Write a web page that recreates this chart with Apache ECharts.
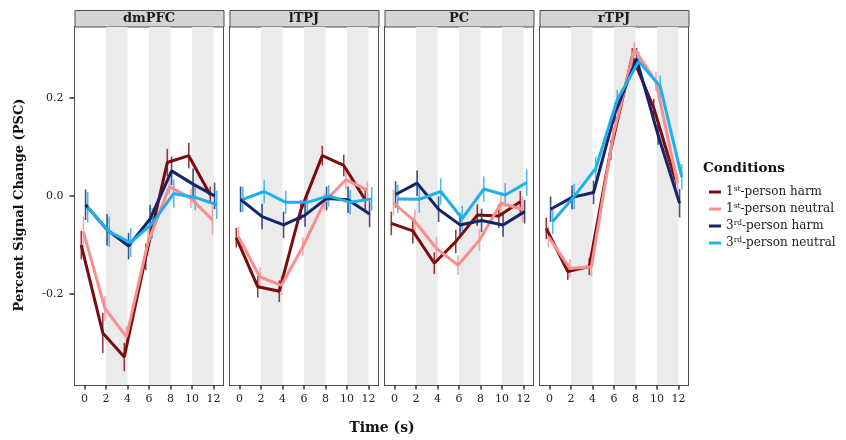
<!DOCTYPE html>
<html>
<head>
<meta charset="utf-8">
<script src="https://cdn.jsdelivr.net/npm/echarts@6/dist/echarts.min.js"></script>
<style>html,body{margin:0;padding:0;background:#fff;}#chart{width:846px;height:440px;}</style>
</head>
<body>
<div id="chart"></div>
<script>
// ---------- data ----------
const regions = ['dmPFC', 'lTPJ', 'PC', 'rTPJ'];
const times = [0, 2, 4, 6, 8, 10, 12];
const conditions = ['1st-person harm', '1st-person neutral', '3rd-person harm', '3rd-person neutral'];
const xTicks = [0, 2, 4, 6, 8, 10, 12];
const yTicks = [-0.2, 0.0, 0.2];
const bands = [[2, 4], [6, 8], [10, 12]];

// means per region: [1st harm, 1st neutral, 3rd harm, 3rd neutral]
const dmPFC_mean = [
  [-0.100, -0.279, -0.328, -0.124, 0.068, 0.082, 0.002],
  [-0.073, -0.229, -0.287, -0.095, 0.019, -0.005, -0.049],
  [-0.018, -0.069, -0.102, -0.047, 0.051, 0.024, 0.000],
  [-0.023, -0.073, -0.095, -0.056, 0.005, -0.003, -0.018]
];
const lTPJ_mean = [
  [-0.085, -0.185, -0.194, -0.029, 0.082, 0.062, -0.008],
  [-0.083, -0.165, -0.182, -0.103, -0.012, 0.033, 0.012],
  [-0.007, -0.042, -0.059, -0.039, -0.005, -0.008, -0.037],
  [-0.007, 0.009, -0.013, -0.013, 0.000, -0.013, -0.006]
];
const PC_mean = [
  [-0.056, -0.071, -0.137, -0.093, -0.039, -0.041, -0.012],
  [-0.014, -0.052, -0.107, -0.141, -0.090, -0.015, -0.027],
  [0.003, 0.026, -0.027, -0.059, -0.050, -0.059, -0.032],
  [-0.006, -0.007, 0.009, -0.046, 0.014, 0.002, 0.027]
];
const rTPJ_mean = [
  [-0.066, -0.154, -0.144, 0.094, 0.284, 0.179, 0.033],
  [-0.083, -0.148, -0.144, 0.121, 0.299, 0.233, 0.026],
  [-0.027, -0.003, 0.007, 0.169, 0.279, 0.124, -0.015],
  [-0.052, -0.001, 0.056, 0.196, 0.274, 0.223, 0.039]
];
// standard errors (half error-bar length)
const dmPFC_se = [
  [0.029, 0.041, 0.029, 0.027, 0.028, 0.026, 0.017],
  [0.031, 0.025, 0.022, 0.027, 0.015, 0.020, 0.029],
  [0.031, 0.032, 0.027, 0.029, 0.029, 0.032, 0.027],
  [0.031, 0.031, 0.029, 0.031, 0.029, 0.026, 0.029]
];
const lTPJ_se = [
  [0.020, 0.022, 0.022, 0.020, 0.020, 0.022, 0.020],
  [0.020, 0.020, 0.020, 0.019, 0.017, 0.020, 0.017],
  [0.026, 0.026, 0.027, 0.024, 0.024, 0.027, 0.027],
  [0.026, 0.024, 0.024, 0.024, 0.022, 0.025, 0.024]
];
const PC_se = [
  [0.024, 0.026, 0.022, 0.024, 0.022, 0.024, 0.022],
  [0.026, 0.024, 0.024, 0.020, 0.022, 0.022, 0.026],
  [0.027, 0.026, 0.026, 0.024, 0.024, 0.024, 0.024],
  [0.029, 0.027, 0.027, 0.026, 0.026, 0.024, 0.027]
];
const rTPJ_se = [
  [0.022, 0.017, 0.017, 0.020, 0.017, 0.019, 0.020],
  [0.022, 0.019, 0.020, 0.020, 0.014, 0.020, 0.020],
  [0.026, 0.024, 0.024, 0.020, 0.022, 0.020, 0.029],
  [0.026, 0.026, 0.024, 0.020, 0.020, 0.022, 0.026]
];

const means = [dmPFC_mean, lTPJ_mean, PC_mean, rTPJ_mean];
const ses = [dmPFC_se, lTPJ_se, PC_se, rTPJ_se];

// ---------- style ----------
const colors = ['#7a0c0e', '#f78f8f', '#15246a', '#1eb0ec'];
const dodge = [-0.3, -0.1, 0.1, 0.3];
const FONT = '"DejaVu Serif", "Liberation Serif", serif';
const gridLeft = [74.5, 229.5, 384.5, 539.5];
const gridW = 149;
const gridTop = 26.5;
const gridH = 359;

const grids = [], xAxes = [], yAxes = [], series = [], graphics = [];

regions.forEach((reg, i) => {
  grids.push({ left: gridLeft[i], top: gridTop, width: gridW, height: gridH,
    show: true, borderColor: '#4d4d4d', borderWidth: 1, backgroundColor: 'transparent' });
  xAxes.push({
    type: 'value', gridIndex: i, min: -0.93, max: 12.93, position: 'bottom',
    axisLine: { show: true, onZero: false, lineStyle: { color: '#4d4d4d', width: 1 } },
    splitLine: { show: false },
    axisTick: { show: true, length: 4, lineStyle: { color: '#333', width: 1.5 }, customValues: xTicks },
    axisLabel: { show: true, customValues: xTicks, fontFamily: FONT, fontSize: 11, color: '#222', margin: 8 }
  });
  yAxes.push({
    type: 'value', gridIndex: i, min: -0.386, max: 0.345, position: 'left',
    axisLine: { show: true, onZero: false, lineStyle: { color: '#4d4d4d', width: 1 } },
    splitLine: { show: false },
    axisTick: { show: i === 0, length: 5, lineStyle: { color: '#333', width: 1.5 }, customValues: yTicks },
    axisLabel: { show: i === 0, customValues: yTicks, fontFamily: FONT, fontSize: 11, color: '#222', margin: 11,
      formatter: v => v.toFixed(1) }
  });
  // shaded bands
  series.push({
    type: 'custom', xAxisIndex: i, yAxisIndex: i, silent: true, z: 1,
    data: bands,
    renderItem: (params, api) => {
      const cs = params.coordSys;
      const a = api.coord([api.value(0), 0]);
      const b = api.coord([api.value(1), 0]);
      return { type: 'rect', shape: { x: a[0], y: cs.y + 0.5, width: b[0] - a[0], height: cs.height - 1 },
        style: { fill: '#ebebeb' } };
    }
  });
  conditions.forEach((cond, c) => {
    const m = means[i][c], s = ses[i][c];
    series.push({
      type: 'custom', xAxisIndex: i, yAxisIndex: i, silent: true, z: 2,
      itemStyle: { color: colors[c] },
      data: times.map((t, k) => [t + dodge[c], m[k] - s[k], m[k] + s[k]]),
      encode: { x: 0, y: [1, 2] },
      renderItem: (params, api) => {
        const x = api.value(0);
        const p1 = api.coord([x, api.value(1)]);
        const p2 = api.coord([x, api.value(2)]);
        return { type: 'line', shape: { x1: p1[0], y1: p1[1], x2: p2[0], y2: p2[1] },
          style: { stroke: colors[c], lineWidth: 1.6, opacity: 0.8 } };
      }
    });
    series.push({
      type: 'line', name: cond, xAxisIndex: i, yAxisIndex: i, z: 3,
      symbol: 'none', color: colors[c],
      lineStyle: { width: 3, color: colors[c] },
      data: times.map((t, k) => [t + dodge[c], m[k]])
    });
  });
  // strip header
  graphics.push({ type: 'rect', left: gridLeft[i], top: 10, shape: { width: gridW, height: 16.5 },
    style: { fill: '#d4d4d4', stroke: '#4d4d4d', lineWidth: 1 } });
  graphics.push({ type: 'text', x: gridLeft[i] + gridW / 2, y: 18.5,
    style: { text: reg, fontFamily: FONT, fontWeight: 'bold', fontSize: 13, fill: '#1a1a1a',
      align: 'center', verticalAlign: 'middle' } });
});

graphics.push({ type: 'text', x: 20, y: 205, rotation: Math.PI / 2,
  style: { text: 'Percent Signal Change (PSC)', fontFamily: FONT, fontWeight: 'bold', fontSize: 13,
    fill: '#111', align: 'center', verticalAlign: 'middle' } });
graphics.push({ type: 'text', x: 382, y: 428,
  style: { text: 'Time (s)', fontFamily: FONT, fontWeight: 'bold', fontSize: 14,
    fill: '#111', align: 'center', verticalAlign: 'middle' } });
graphics.push({ type: 'text', x: 703, y: 168,
  style: { text: 'Conditions', fontFamily: FONT, fontWeight: 'bold', fontSize: 13.5,
    fill: '#111', align: 'left', verticalAlign: 'middle' } });

const chart = echarts.init(document.getElementById('chart'), null, { renderer: 'canvas' });
chart.setOption({
  animation: false,
  backgroundColor: '#fff',
  grid: grids,
  xAxis: xAxes,
  yAxis: yAxes,
  legend: {
    data: conditions, orient: 'vertical', left: 704, top: 180,
    icon: 'rect', itemWidth: 12, itemHeight: 3, itemGap: 3,
    selectedMode: false,
    formatter: name => name.replace(/^(\d)(st|rd)/, '$1{sup|$2}'),
    textStyle: { fontFamily: FONT, fontSize: 12, color: '#222', lineHeight: 14,
      rich: { sup: { fontFamily: FONT, fontSize: 7.5, color: '#222', verticalAlign: 'top', lineHeight: 14 } } }
  },
  graphic: graphics,
  series: series
});
</script>
</body>
</html>
